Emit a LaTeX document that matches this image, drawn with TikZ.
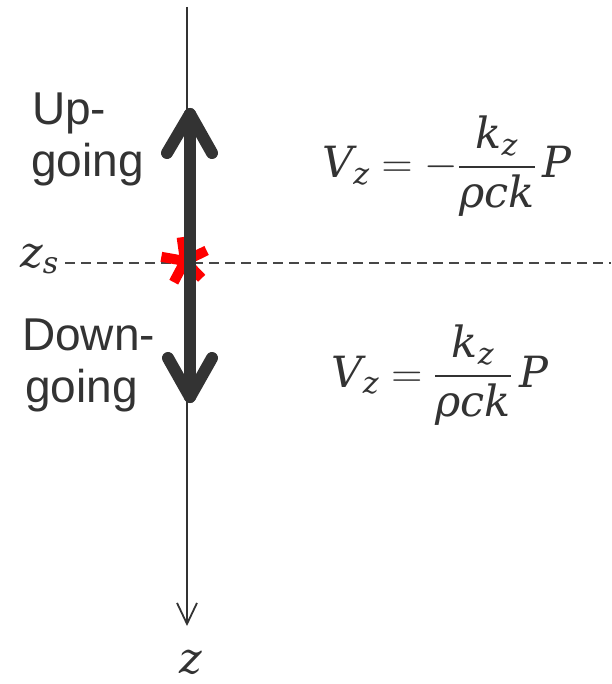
\RequirePackage{fix-cm}
\documentclass[tikz,border=0pt]{standalone}
\usepackage{amsmath}
\usepackage{fontspec}
\setmainfont{Liberation Sans}
\newfontfamily\eqserif{DejaVu Serif}
\newcommand{\mv}[1]{\text{\eqserif\itshape #1}}
\newcommand{\thfrac}[2]{\genfrac{}{}{2.2pt}{0}{#1}{#2}}
\usetikzlibrary{arrows.meta,calc}
\definecolor{ink}{HTML}{333333}
\definecolor{starred}{HTML}{FF0000}
\begin{document}
\begin{tikzpicture}[x=1pt,y=-1pt,
  lbl/.style={font=\fontsize{46}{52}\selectfont, text=ink, inner sep=0pt, anchor=base west},
  eq/.style={font=\fontsize{43}{48}\selectfont, text=ink, inner sep=0pt, anchor=base},
  axisline/.style={draw=ink, line width=1.8pt, -{Straight Barb[length=21pt,width=20pt,line width=1.8pt]}},
  bigarrow/.style={draw=ink, line width=12pt, line cap=round, line join=round},
  dashline/.style={draw=ink!90, line width=1.5pt, dash pattern=on 10pt off 6pt},
  stararm/.style={draw=starred, line width=10pt}]
\useasboundingbox[fill=white] (0,0) rectangle (611,684);

% axis
\coordinate (axTop) at (187,7);
\coordinate (axBot) at (187,626);
\draw[axisline] (axTop) -- (axBot);

% source depth dashed line
\node[eq, anchor=base west] (zs) at (20,267) {$\mv{z}_{\mv{s}}$};
\coordinate (dashEnd) at (611,263);
\draw[dashline] (65,263) coordinate (dashStart) -- (dashEnd);

% red asterisk
\coordinate (src) at (185,261);
\foreach \a in {-98,-26,-170,46,118}
  \draw[stararm] (src) -- ++(\a:24);

% thick double arrow
\coordinate (upTip) at (190,114);
\coordinate (dnTip) at (190,397);
\draw[bigarrow] (upTip) -- (dnTip);
\draw[bigarrow] ($(upTip)+(-23,39)$) -- (upTip) -- ($(upTip)+(22,39)$);
\draw[bigarrow] ($(dnTip)+(-22,-39)$) -- (dnTip) -- ($(dnTip)+(22,-39)$);

% labels
\node[lbl] (up1) at (32,125) {Up-};
\node[lbl] (up2) at (31,177) {going};
\node[lbl] (dn1) at (22,350) {Down-};
\node[lbl] (dn2) at (25,402) {going};

% equations
\node[eq] (eqUp) at (447,178) {$\displaystyle \mv{V}_{\mv{z}} = -\thfrac{\mv{k}_{\mv{z}}}{\mv{ρck}}\,\mv{P}$};
\node[eq] (eqDn) at (440,387) {$\displaystyle \mv{V}_{\mv{z}} = \thfrac{\mv{k}_{\mv{z}}}{\mv{ρck}}\,\mv{P}$};

% axis label
\node[eq, text depth=0pt] (zlab) at (191,673) {$\mv{z}$};
\end{tikzpicture}
\end{document}
